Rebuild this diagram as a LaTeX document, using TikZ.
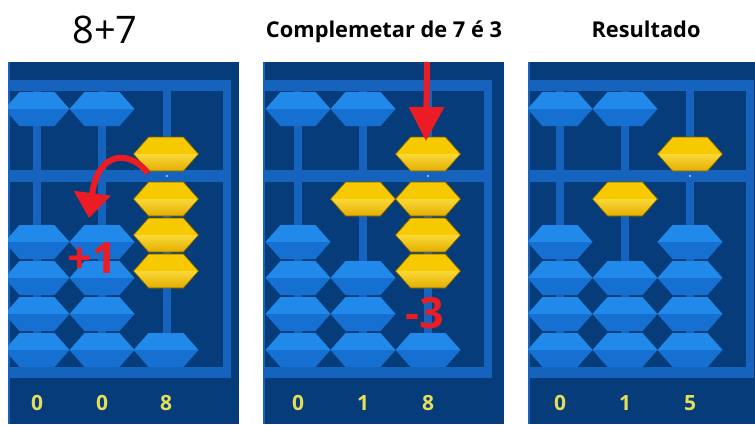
\documentclass[tikz,border=0pt]{standalone}
\usepackage{fontspec}
\setmainfont{Open Sans}
\usetikzlibrary{arrows.meta}

\definecolor{frameblue}{HTML}{073C7A}
\definecolor{barblue}{HTML}{1563BC}
\definecolor{beadtop}{HTML}{2189EA}
\definecolor{beadbot}{HTML}{1670D2}
\definecolor{goldtop}{HTML}{F6C900}
\definecolor{goldmid}{HTML}{FCD838}
\definecolor{goldbot}{HTML}{E2AE00}
\definecolor{goldedge}{HTML}{7A6000}
\definecolor{digit}{HTML}{E4DE5A}
\definecolor{signred}{HTML}{EC1C24}

% one bead, upper and lower half: \bead{x}{y}{upper}{lower}
\newcommand{\bead}[4]{%
  \fill[#3] (#1-32.5,#2) -- (#1-17.5,#2-17) -- (#1+17.5,#2-17) -- (#1+32.5,#2) -- cycle;
  \fill[#4] (#1-32.5,#2) -- (#1+32.5,#2) -- (#1+17.5,#2+17) -- (#1-17.5,#2+17) -- cycle;}
\newcommand{\goldbead}[2]{%
  \fill[goldtop] (#1-32.5,#2) -- (#1-17.5,#2-17) -- (#1+17.5,#2-17) -- (#1+32.5,#2) -- cycle;
  \shade[top color=goldmid, bottom color=goldbot] (#1-32.5,#2) -- (#1+32.5,#2)
    -- (#1+17.5,#2+17) -- (#1-17.5,#2+17) -- cycle;
  \draw[goldedge, line width=0.7pt] (#1-32.5,#2) -- (#1-17.5,#2-17) -- (#1+17.5,#2-17)
    -- (#1+32.5,#2) -- (#1+17.5,#2+17) -- (#1-17.5,#2+17) -- cycle;}

\begin{document}
\begin{tikzpicture}[x=1pt, y=-1pt,
    title/.style={anchor=base, font=\fontsize{21.8}{24}\selectfont\bfseries},
    count/.style={anchor=base, text=digit, font=\fontsize{21}{24}\selectfont\bfseries},
    sign/.style={anchor=base, text=signred, font=\fontsize{43}{46}\selectfont\bfseries},
    hand/.style 2 args={draw=signred, line width=6pt, -{Triangle[length=#1, width=#2]}}]
  \useasboundingbox (0,0) rectangle (755,424);
  \fill[white] (0,0) rectangle (755,424);
  % headings
  \node[anchor=base, font=\fontsize{38}{40}\selectfont] (sum) at (105,43) {8+7};
  \node[title] (comp) at (384,37) {Complemetar de 7 é 3};
  \node[title] (res) at (646,37) {Resultado};
  \begin{scope}
    \clip (8,62) rectangle (239,424) (263,62) rectangle (504,424) (528,62) rectangle (755,424);
    % frames, beams and rods (left edge / first rod / right edge)
    \foreach \L/\R/\E in {8/37/239, 263/298/504, 528/560/755} {
      \fill[frameblue] (\L,62) rectangle (\E,424);
      \fill[barblue] (\L,62) rectangle (\L+1.5,424);
      \fill[barblue] (\L,80) rectangle (\R+194,91);
      \fill[barblue] (\L,170) rectangle (\R+194,182);
      \fill[barblue] (\L,367) rectangle (\R+194,378);
      \fill[barblue] (\R+186,80) rectangle (\R+194,378);
      \foreach \k in {0,65,130}
        \fill[barblue] (\R+\k-4,91) rectangle (\R+\k+4,367);
      \fill[white!70!barblue] (\R+130,176) circle (1.2);
    }
    % beads that are not counted
    \foreach \x in {37,102,298,363,560,625} {\bead{\x}{109}{beadtop}{beadbot}}
    \foreach \x in {37,102,298,560,690}
      \foreach \y in {242,278,314,350} {\bead{\x}{\y}{beadtop}{beadbot}}
    \foreach \x in {363,625}
      \foreach \y in {278,314,350} {\bead{\x}{\y}{beadtop}{beadbot}}
    \foreach \x in {166,428} {\bead{\x}{350}{beadtop}{beadbot}}
    % counted beads
    \foreach \x in {166,428,690} {\goldbead{\x}{154}}
    \foreach \x/\y in {166/199, 166/235, 166/271, 428/199, 428/235, 428/271, 363/199, 625/199}
      {\goldbead{\x}{\y}}
  \end{scope}
  % rod values
  \foreach \x/\v [count=\i] in {37/0, 102/0, 166/8, 298/0, 363/1, 428/8, 560/0, 625/1, 690/5}
    \node[count] (v\i) at (\x,410) {\v};
  % carry to the tens rod, then take the complement away
  \coordinate (hop-a) at (148,173);
  \coordinate (hop-b) at (89,218);
  \draw[hand={25pt}{36pt}] (hop-a) .. controls (130,150) and (98,150) .. (hop-b);
  \node[sign] (plus) at (92,273) {+1};
  \coordinate (drop-a) at (427,62);
  \coordinate (drop-b) at (426,141);
  \draw[hand={34pt}{34pt}] (drop-a) -- (drop-b);
  \node[sign] (minus) at (425,328) {-3};
\end{tikzpicture}
\end{document}
